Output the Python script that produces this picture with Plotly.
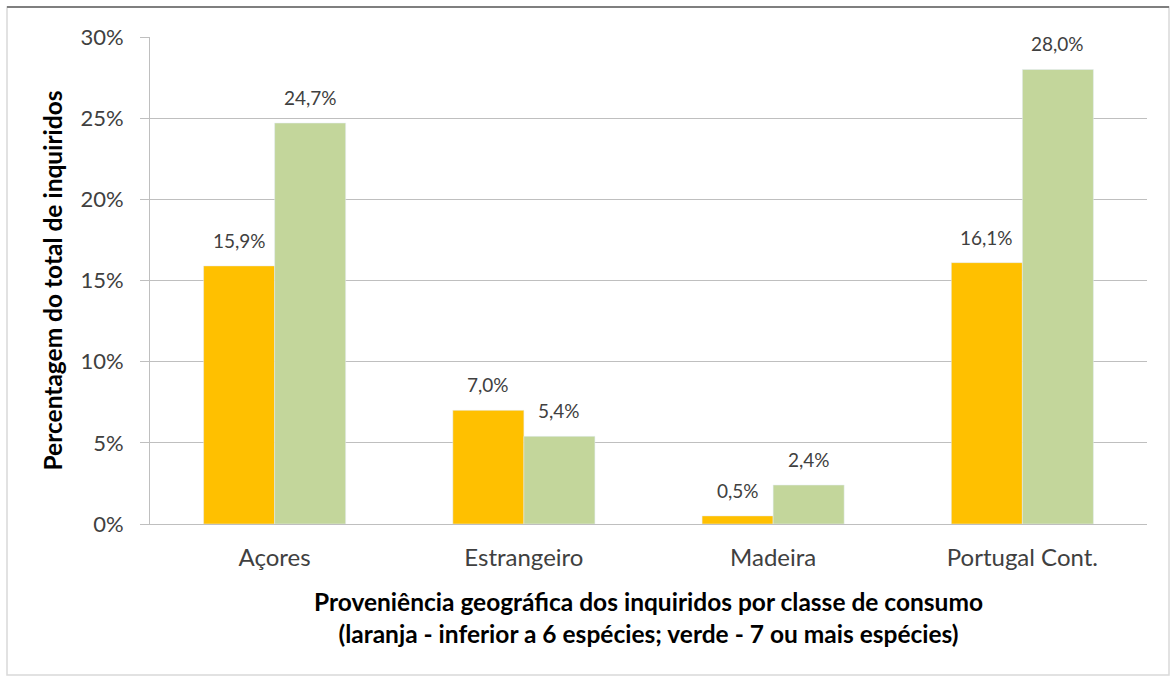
import plotly.graph_objects as go

categories = ["Açores", "Estrangeiro", "Madeira", "Portugal Cont."]
laranja = [0.159, 0.070, 0.005, 0.161]
verde = [0.247, 0.054, 0.024, 0.280]
y_ticks = [0, 0.05, 0.10, 0.15, 0.20, 0.25, 0.30]

FONT = "Lato"
W, H = 1175, 677
L, R, T, B = 150, 28, 37, 153
pw = W - L - R
ph = H - T - B

fig = go.Figure()
fig.add_trace(go.Bar(x=categories, y=laranja, marker_color="#FFC000", name="laranja"))
fig.add_trace(go.Bar(x=categories, y=verde, marker_color="#C3D69B", name="verde"))

bargap = 0.43
cat_w = pw / len(categories)
bar_w = cat_w * (1 - bargap) / 2
annotations = []
for vals, sh in ((laranja, -bar_w / 2), (verde, bar_w / 2)):
    for c, v in zip(categories, vals):
        annotations.append(dict(
            x=c, y=v, xref="x", yref="y", text=f"{v*100:.1f}%".replace(".", ","),
            showarrow=False, xshift=sh, yshift=12, yanchor="bottom",
            font=dict(family=FONT, size=19, color="#404040")))

fig.update_layout(
    width=W, height=H,
    margin=dict(l=L, r=R, t=T, b=B),
    paper_bgcolor="white", plot_bgcolor="white",
    barmode="group", bargap=bargap, bargroupgap=0,
    showlegend=False,
    separators=", ",
    font=dict(family=FONT, color="#404040"),
    annotations=annotations,
    shapes=[
        dict(type="rect", xref="paper", yref="paper",
             x0=(7 - L) / pw, x1=(1169 - L) / pw,
             y0=(H - B - 675) / ph, y1=(H - B - 7) / ph,
             line=dict(color="#D9D9D9", width=1.5), layer="below"),
        dict(type="line", xref="paper", yref="paper",
             x0=(7 - L) / pw, x1=(1169 - L) / pw,
             y0=(H - B - 7) / ph, y1=(H - B - 7) / ph,
             line=dict(color="#7F7F7F", width=2)),
    ],
)
fig.update_yaxes(
    range=[0, 0.30], tickvals=y_ticks, tickformat=".0%",
    showgrid=True, gridcolor="#BFBFBF", gridwidth=1,
    showline=True, linecolor="#BFBFBF", linewidth=1,
    ticks="outside", ticklen=9, tickcolor="#BFBFBF",
    ticklabelstandoff=12,
    tickfont=dict(family=FONT, size=22, color="#404040"),
    zeroline=False,
    title=dict(text="<b>Percentagem do total de inquiridos</b>",
               font=dict(family=FONT, size=24.5, color="#000000"), standoff=10),
)
fig.update_xaxes(
    showline=True, linecolor="#BFBFBF", linewidth=1,
    ticks="", ticklabelstandoff=12,
    tickfont=dict(family=FONT, size=24, color="#404040"),
    title=dict(text="<b>Proveniência geográfica dos inquiridos por classe de consumo<br>(laranja - inferior a 6 espécies; verde - 7 ou mais espécies)</b>",
               font=dict(family=FONT, size=24.5, color="#000000"), standoff=24),
)

fig.write_html("out.html", config={"displayModeBar": False},
               post_script="document.body.style.margin='0px';")
